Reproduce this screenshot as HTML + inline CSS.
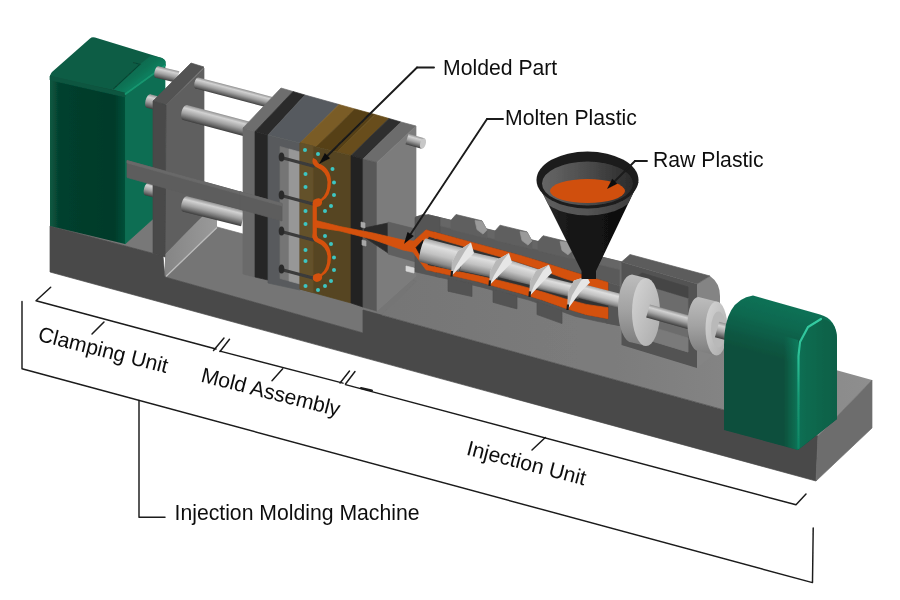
<!DOCTYPE html>
<html lang="en">
<head>
<meta charset="utf-8">
<title>Injection Molding Machine</title>
<style>
html,body{margin:0;padding:0;background:#fff;}
body{width:900px;height:600px;overflow:hidden;font-family:"Liberation Sans",Arial,sans-serif;}
svg{display:block;}
text{font-family:"Liberation Sans",Arial,sans-serif;font-size:21.2px;fill:#111;}
.ln{stroke:#1a1a1a;fill:none;stroke-linecap:round;stroke-linejoin:round;}
</style>
</head>
<body>
<svg width="900" height="600" viewBox="0 0 900 600">
<defs>
<linearGradient id="cyl" x1="0" y1="0" x2="0" y2="1">
<stop offset="0" stop-color="#909090"/><stop offset="0.22" stop-color="#d2d2d2"/><stop offset="0.55" stop-color="#a2a2a2"/><stop offset="0.85" stop-color="#626262"/><stop offset="1" stop-color="#3c3c3c"/>
</linearGradient>
<linearGradient id="scr" x1="0" y1="0" x2="0" y2="1">
<stop offset="0" stop-color="#a6a6a6"/><stop offset="0.22" stop-color="#dedede"/><stop offset="0.55" stop-color="#c2c2c2"/><stop offset="0.85" stop-color="#8c8c8c"/><stop offset="1" stop-color="#555"/>
</linearGradient>
<linearGradient id="gfront" x1="0" y1="0" x2="1" y2="0">
<stop offset="0" stop-color="#0a5a42"/><stop offset="0.12" stop-color="#05402e"/><stop offset="0.85" stop-color="#043a29"/><stop offset="1" stop-color="#065039"/>
</linearGradient>
<linearGradient id="gtopL" gradientUnits="userSpaceOnUse" x1="115" y1="79" x2="125" y2="92">
<stop offset="0" stop-color="#0b694e"/><stop offset="0.6" stop-color="#0c7254"/><stop offset="1" stop-color="#0e7d5d"/>
</linearGradient>
<linearGradient id="btop" gradientUnits="userSpaceOnUse" x1="360" y1="0" x2="870" y2="0">
<stop offset="0" stop-color="#757575"/><stop offset="0.5" stop-color="#7c7c7c"/><stop offset="1" stop-color="#8e8e8e"/>
</linearGradient>
<linearGradient id="wall" x1="0" y1="0" x2="1" y2="0"><stop offset="0" stop-color="#858585"/><stop offset="1" stop-color="#9a9a9a"/></linearGradient>
<linearGradient id="dface" x1="0" y1="0" x2="1" y2="1"><stop offset="0" stop-color="#d6d6d6"/><stop offset="1" stop-color="#aaaaaa"/></linearGradient>
<linearGradient id="drim" x1="0" y1="0" x2="0" y2="1"><stop offset="0" stop-color="#bdbdbd"/><stop offset="0.5" stop-color="#a2a2a2"/><stop offset="1" stop-color="#7c7c7c"/></linearGradient>
<linearGradient id="gtop" gradientUnits="userSpaceOnUse" x1="768" y1="300" x2="754" y2="352"><stop offset="0" stop-color="#0c7155"/><stop offset="0.35" stop-color="#0b6950"/><stop offset="0.75" stop-color="#0a5843"/><stop offset="1" stop-color="#0a503c"/></linearGradient>
<linearGradient id="gfront2" x1="0" y1="0" x2="1" y2="0"><stop offset="0" stop-color="#0b5a43"/><stop offset="0.2" stop-color="#084733"/><stop offset="1" stop-color="#063f2d"/></linearGradient>
<linearGradient id="garch" x1="0" y1="0" x2="1" y2="0"><stop offset="0" stop-color="#0b6f53"/><stop offset="0.5" stop-color="#0a664c"/><stop offset="1" stop-color="#0a6047"/></linearGradient>
<linearGradient id="medge" x1="0" y1="0" x2="1" y2="0"><stop offset="0" stop-color="#0e8060" stop-opacity="0"/><stop offset="1" stop-color="#0e8060" stop-opacity="0.75"/></linearGradient>
<linearGradient id="mhl" gradientUnits="userSpaceOnUse" x1="0" y1="319" x2="0" y2="450"><stop offset="0" stop-color="#35cca2"/><stop offset="0.3" stop-color="#2cbf96"/><stop offset="0.6" stop-color="#179a76"/><stop offset="1" stop-color="#108463"/></linearGradient>
<linearGradient id="hop" x1="0" y1="0" x2="1" y2="0"><stop offset="0" stop-color="#2c2c2c"/><stop offset="0.35" stop-color="#161616"/><stop offset="1" stop-color="#0d0d0d"/></linearGradient>
<linearGradient id="hband" x1="0" y1="0" x2="1" y2="0"><stop offset="0" stop-color="#5e5e5e"/><stop offset="0.5" stop-color="#545454"/><stop offset="1" stop-color="#3a3a3a"/></linearGradient>
<linearGradient id="hopin" x1="0" y1="0" x2="1" y2="0"><stop offset="0" stop-color="#666"/><stop offset="0.5" stop-color="#4c4c4c"/><stop offset="1" stop-color="#2a2a2a"/></linearGradient>
<filter id="soft2" x="-5%" y="-5%" width="110%" height="110%"><feGaussianBlur stdDeviation="0.35"/></filter>
<filter id="soft" x="-5%" y="-5%" width="110%" height="110%"><feGaussianBlur stdDeviation="0.7"/></filter>
</defs>
<rect width="900" height="600" fill="#fff"/>
<g id="machine" filter="url(#soft)">
<!--PARTS-->
<polygon points="50.0,226.0 104.0,170.0 217.0,203.0 165.0,253.0 163.0,256.0" fill="#787878" stroke="#787878" stroke-width="0.7" stroke-linejoin="round" />
<polygon points="363.0,310.0 417.0,254.0 872.0,380.0 818.0,436.0" fill="url(#btop)" />
<polygon points="165.0,277.0 217.0,227.0 417.0,281.0 363.0,333.0" fill="#747474" stroke="#747474" stroke-width="0.7" stroke-linejoin="round" />
<polygon points="165.0,253.0 217.0,203.0 217.0,227.0 165.0,277.0" fill="url(#wall)" />
<polyline points="166.0,276.5 217.0,227.5" fill="none" stroke="#bcbcbc" stroke-width="1.3" />
<polygon points="50.0,226.0 163.0,256.0 165.0,277.0 363.0,333.0 363.0,310.0 818.0,436.0 816.0,481.0 50.0,272.0" fill="#494949" stroke="#494949" stroke-width="0.7" stroke-linejoin="round" />
<polygon points="818.0,436.0 872.0,380.0 872.0,428.0 816.0,481.0" fill="#6d6d6d" stroke="#6d6d6d" stroke-width="0.7" stroke-linejoin="round" />
<polygon points="125.0,92.0 165.0,64.0 165.0,208.0 125.0,244.0" fill="#0b6e52" stroke="#0b6e52" stroke-width="0.7" stroke-linejoin="round" />
<polygon points="50.0,75.0 125.0,92.0 125.0,244.0 50.0,226.0" fill="url(#gfront)" />
<path d="M50,77 Q50,74 52,72 L90,38.5 Q92,36.5 95,37.5 L162,58 Q165,59 165.5,62 L165.5,65 L126,93.5 Q125,92.5 123,92 Z" fill="#0a5d45" />
<polygon points="113.3,89.5 140.0,64.2 151.0,55.5 162.0,58.0 165.5,61.0 165.5,65.0 126.0,93.5" fill="url(#gtopL)" />
<polygon points="50.0,76.0 125.0,93.0 125.0,97.0 50.0,80.0" fill="#085640" stroke="#085640" stroke-width="0.7" stroke-linejoin="round" />
<polyline points="125.5,94.0 165.0,65.5" fill="none" stroke="#15966f" stroke-width="1.8" stroke-linecap="round"/>
<polyline points="113.3,89.0 140.0,64.2 133.0,62.5" fill="none" stroke="#074a36" stroke-width="1.1" />
<g transform="translate(157.0,72.0) rotate(13.39)"><polygon points="0,-6.0 21.6,-6.0 21.6,6.0 0,6.0" fill="url(#cyl)"/><ellipse cx="0" cy="0" rx="2.5" ry="6" fill="url(#cyl)"/></g>
<g transform="translate(148.5,101.0) rotate(14.53)"><polygon points="0,-7.0 13.9,-7.0 13.9,7.0 0,7.0" fill="url(#cyl)"/><ellipse cx="0" cy="0" rx="3" ry="7" fill="url(#cyl)"/></g>
<g transform="translate(147.0,189.0) rotate(15.26)"><polygon points="0,-6.5 11.4,-6.5 11.4,6.5 0,6.5" fill="url(#cyl)"/><ellipse cx="0" cy="0" rx="3" ry="6.5" fill="url(#cyl)"/></g>
<polygon points="153.0,101.0 191.0,63.0 204.0,67.0 166.0,105.0" fill="#525252" stroke="#525252" stroke-width="0.7" stroke-linejoin="round" />
<polygon points="166.0,105.0 204.0,68.0 204.0,214.0 165.0,254.0" fill="#5f5f5f" stroke="#5f5f5f" stroke-width="0.7" stroke-linejoin="round" />
<polygon points="153.0,101.0 166.0,105.0 165.0,257.0 153.0,253.0" fill="#484848" stroke="#484848" stroke-width="0.7" stroke-linejoin="round" />
<polygon points="204.0,197.0 243.0,207.5 243.0,216.0 204.0,205.0" fill="#585858" stroke="#585858" stroke-width="0.7" stroke-linejoin="round" />
<g transform="translate(197.0,83.0) rotate(14.76)"><polygon points="0,-5.8 76.5,-5.8 76.5,5.8 0,5.8" fill="url(#cyl)"/><ellipse cx="0" cy="0" rx="2.5" ry="5.75" fill="url(#cyl)"/></g>
<g transform="translate(185.0,112.5) rotate(14.90)"><polygon points="0,-7.8 64.2,-7.8 64.2,7.8 0,7.8" fill="url(#cyl)"/><ellipse cx="0" cy="0" rx="3.5" ry="7.75" fill="url(#cyl)"/></g>
<g transform="translate(185.0,204.0) rotate(14.04)"><polygon points="0,-8.0 59.8,-8.0 59.8,8.0 0,8.0" fill="url(#cyl)"/><ellipse cx="0" cy="0" rx="3.5" ry="8" fill="url(#cyl)"/></g>
<polygon points="127.0,160.5 282.0,203.5 282.0,221.0 127.0,177.5" fill="#5d5d5d" stroke="#5d5d5d" stroke-width="0.7" stroke-linejoin="round" />
<polygon points="127.0,160.5 282.0,203.5 282.0,206.0 127.0,163.0" fill="#696969" stroke="#696969" stroke-width="0.7" stroke-linejoin="round" />
<polygon points="243.0,128.0 281.0,88.0 293.0,91.5 255.0,131.5" fill="#6e6e6e" stroke="#6e6e6e" stroke-width="0.7" stroke-linejoin="round" />
<polygon points="255.0,131.5 293.0,91.5 305.0,95.0 268.0,135.0" fill="#2b2b2b" stroke="#2b2b2b" stroke-width="0.7" stroke-linejoin="round" />
<polygon points="268.0,135.0 305.0,95.0 339.0,104.5 300.0,143.0" fill="#575a5f" stroke="#575a5f" stroke-width="0.7" stroke-linejoin="round" />
<polygon points="300.0,143.0 339.0,104.5 355.0,109.0 316.0,147.0" fill="#7a5c28" stroke="#7a5c28" stroke-width="0.7" stroke-linejoin="round" />
<polygon points="316.0,147.0 355.0,109.0 375.0,114.5 337.0,152.0" fill="#574114" stroke="#574114" stroke-width="0.7" stroke-linejoin="round" />
<polygon points="337.0,152.0 375.0,114.5 389.0,118.5 351.0,155.5" fill="#674d1b" stroke="#674d1b" stroke-width="0.7" stroke-linejoin="round" />
<polygon points="351.0,155.5 389.0,118.5 401.0,122.0 363.0,159.0" fill="#2e2e2e" stroke="#2e2e2e" stroke-width="0.7" stroke-linejoin="round" />
<polygon points="363.0,159.0 401.0,122.0 416.0,126.0 377.0,162.5" fill="#6c6c6c" stroke="#6c6c6c" stroke-width="0.7" stroke-linejoin="round" />
<polygon points="243.0,128.0 255.0,131.5 255.0,277.0 243.0,274.0" fill="#6a6a6a" stroke="#6a6a6a" stroke-width="0.7" stroke-linejoin="round" />
<polygon points="255.0,131.5 268.0,135.0 268.0,280.0 255.0,277.0" fill="#262626" stroke="#262626" stroke-width="0.7" stroke-linejoin="round" />
<polygon points="268.0,135.0 300.0,143.0 300.0,290.0 268.0,283.0" fill="#585a5d" stroke="#585a5d" stroke-width="0.7" stroke-linejoin="round" />
<polygon points="280.0,146.5 289.0,149.0 289.0,281.0 280.0,278.5" fill="#747474" stroke="#747474" stroke-width="0.7" stroke-linejoin="round" />
<polygon points="289.0,149.0 300.0,152.0 300.0,284.0 289.0,281.0" fill="#979797" stroke="#979797" stroke-width="0.7" stroke-linejoin="round" />
<polygon points="300.0,143.0 351.0,155.5 351.0,303.0 300.0,289.0" fill="#564520" stroke="#564520" stroke-width="0.7" stroke-linejoin="round" />
<polygon points="300.0,143.0 313.0,146.0 313.0,292.5 300.0,289.0" fill="#64512a" stroke="#64512a" stroke-width="0.7" stroke-linejoin="round" />
<polygon points="351.0,155.5 363.0,159.0 363.0,307.0 351.0,303.0" fill="#222222" stroke="#222222" stroke-width="0.7" stroke-linejoin="round" />
<polygon points="363.0,159.0 377.0,162.5 377.0,311.0 363.0,307.0" fill="#585858" stroke="#585858" stroke-width="0.7" stroke-linejoin="round" />
<polygon points="377.0,162.5 416.0,126.0 416.0,276.0 377.0,311.0" fill="#7c7c7c" stroke="#7c7c7c" stroke-width="0.7" stroke-linejoin="round" />
<polygon points="240.0,191.8 282.0,203.5 282.0,221.0 240.0,209.2" fill="#5d5d5d" stroke="#5d5d5d" stroke-width="0.7" stroke-linejoin="round" />
<polygon points="240.0,191.8 282.0,203.5 282.0,206.0 240.0,194.3" fill="#696969" stroke="#696969" stroke-width="0.7" stroke-linejoin="round" />
<polyline points="283.0,158.0 313.0,166.0" fill="none" stroke="#3a3a3a" stroke-width="3.2" stroke-linecap="round"/>
<ellipse cx="281.5" cy="157" rx="2.8" ry="4.5" fill="#2b2b2b"/>
<polyline points="283.0,196.0 313.0,204.0" fill="none" stroke="#3a3a3a" stroke-width="3.2" stroke-linecap="round"/>
<ellipse cx="281.5" cy="195" rx="2.8" ry="4.5" fill="#2b2b2b"/>
<polyline points="283.0,232.0 313.0,240.0" fill="none" stroke="#3a3a3a" stroke-width="3.2" stroke-linecap="round"/>
<ellipse cx="281.5" cy="231" rx="2.8" ry="4.5" fill="#2b2b2b"/>
<polyline points="283.0,270.0 313.0,278.0" fill="none" stroke="#3a3a3a" stroke-width="3.2" stroke-linecap="round"/>
<ellipse cx="281.5" cy="269" rx="2.8" ry="4.5" fill="#2b2b2b"/>
<g transform="translate(407.0,139.0) rotate(15.71)"><polygon points="0,-5.5 16.6,-5.5 16.6,5.5 0,5.5" fill="url(#cyl)"/><ellipse cx="16.6" cy="0" rx="2.8" ry="5.5" fill="#c8c8c8"/></g>
<path d="M313,158 Q317,159 318,163 Q331,168 331,182 Q331,196 322,201 Q323,206 317,207 Q311,206 313.5,200 Q318,197 321,199 Q327.5,194 327.5,182 Q327.5,172 316,167 Q311,164 313,158 Z" fill="#d4510f" />
<path d="M313,233 Q317,234 318,238 Q331,243 331,257 Q331,271 322,276 Q323,281 317,282 Q311,281 313.5,275 Q318,272 321,274 Q327.5,269 327.5,257 Q327.5,247 316,242 Q311,239 313,233 Z" fill="#d4510f" />
<polygon points="313.0,203.0 316.5,203.0 316.5,238.0 313.0,238.0" fill="#d4510f" stroke="#d4510f" stroke-width="0.7" stroke-linejoin="round" />
<circle cx="305" cy="150" r="2" fill="#3cc6c2"/>
<circle cx="318" cy="154" r="2" fill="#3cc6c2"/>
<circle cx="305.5" cy="174" r="2" fill="#3cc6c2"/>
<circle cx="305.5" cy="187" r="2" fill="#3cc6c2"/>
<circle cx="305.5" cy="211" r="2" fill="#3cc6c2"/>
<circle cx="305.5" cy="224" r="2" fill="#3cc6c2"/>
<circle cx="305.5" cy="250" r="2" fill="#3cc6c2"/>
<circle cx="305.5" cy="261" r="2" fill="#3cc6c2"/>
<circle cx="305.5" cy="286" r="2" fill="#3cc6c2"/>
<circle cx="318" cy="290" r="2" fill="#3cc6c2"/>
<circle cx="332.5" cy="169" r="2" fill="#3cc6c2"/>
<circle cx="334" cy="182.5" r="2" fill="#3cc6c2"/>
<circle cx="334" cy="195" r="2" fill="#3cc6c2"/>
<circle cx="331" cy="206" r="2" fill="#3cc6c2"/>
<circle cx="325" cy="211" r="2" fill="#3cc6c2"/>
<circle cx="325" cy="236" r="2" fill="#3cc6c2"/>
<circle cx="331" cy="244" r="2" fill="#3cc6c2"/>
<circle cx="334" cy="257.5" r="2" fill="#3cc6c2"/>
<circle cx="334" cy="270" r="2" fill="#3cc6c2"/>
<circle cx="331" cy="281" r="2" fill="#3cc6c2"/>
<circle cx="325" cy="286" r="2" fill="#3cc6c2"/>
<polygon points="428.0,214.7 452.2,220.6 476.5,226.5 500.8,232.4 525.0,238.3 549.2,244.2 573.5,250.2 597.8,256.1 622.0,262.0 622.0,286.6 597.8,279.3 573.5,272.0 549.2,264.3 525.0,256.8 500.8,250.2 476.5,243.6 452.2,237.1 428.0,230.5" fill="#5a5a5a" stroke="#5a5a5a" stroke-width="0.7" stroke-linejoin="round" />
<polygon points="428.0,214.7 452.2,220.6 476.5,226.5 500.8,232.4 525.0,238.3 549.2,244.2 573.5,250.2 597.8,256.1 622.0,262.0 622.0,270.0 597.8,264.1 573.5,258.2 549.2,252.2 525.0,246.3 500.8,240.4 476.5,234.5 452.2,228.6 428.0,222.7" fill="#666666" stroke="#666666" stroke-width="0.7" stroke-linejoin="round" />
<polygon points="416.0,216.7 428.0,214.7 428.0,230.5 416.0,227.2" fill="#606060" stroke="#606060" stroke-width="0.7" stroke-linejoin="round" />
<polygon points="451.0,220.3 456.0,214.5 482.0,220.8 487.0,230.1 487.0,238.1 451.0,229.3" fill="#5f5f5f" stroke="#5f5f5f" stroke-width="0.7" stroke-linejoin="round" />
<polygon points="475.0,220.6 482.0,221.3 487.0,230.1 483.0,234.1 477.0,229.6" fill="#9a9a9a" stroke="#9a9a9a" stroke-width="0.7" stroke-linejoin="round" />
<polygon points="495.0,231.0 500.0,225.2 527.0,231.8 532.0,241.0 532.0,249.0 495.0,240.0" fill="#5f5f5f" stroke="#5f5f5f" stroke-width="0.7" stroke-linejoin="round" />
<polygon points="520.0,231.6 527.0,232.3 532.0,241.0 528.0,245.1 522.0,240.6" fill="#9a9a9a" stroke="#9a9a9a" stroke-width="0.7" stroke-linejoin="round" />
<polygon points="538.0,241.5 543.0,235.7 567.0,241.6 572.0,250.8 572.0,258.8 538.0,250.5" fill="#5f5f5f" stroke="#5f5f5f" stroke-width="0.7" stroke-linejoin="round" />
<polygon points="560.0,241.4 567.0,242.1 572.0,250.8 568.0,254.8 562.0,250.4" fill="#9a9a9a" stroke="#9a9a9a" stroke-width="0.7" stroke-linejoin="round" />
<polygon points="364.0,228.0 388.0,223.0 388.0,253.0 364.0,237.0" fill="#2c2c2c" stroke="#2c2c2c" stroke-width="0.7" stroke-linejoin="round" />
<polygon points="361.0,222.0 365.0,223.0 365.0,228.0 361.0,227.0" fill="#a8a8a8" stroke="#a8a8a8" stroke-width="0.7" stroke-linejoin="round" />
<polygon points="362.0,240.0 366.0,241.0 366.0,246.0 362.0,245.0" fill="#a8a8a8" stroke="#a8a8a8" stroke-width="0.7" stroke-linejoin="round" />
<polygon points="388.0,222.0 416.0,229.0 416.0,262.0 388.0,254.0" fill="#5f5f5f" stroke="#5f5f5f" stroke-width="0.7" stroke-linejoin="round" />
<polygon points="415.0,217.5 423.0,214.4 440.0,217.6 440.0,277.4 415.0,271.8" fill="#545454" stroke="#545454" stroke-width="0.7" stroke-linejoin="round" />
<polygon points="436.0,272.0 459.2,277.3 482.5,282.9 505.8,289.4 529.0,295.6 552.2,303.6 575.5,311.9 598.8,317.1 622.0,321.5 622.0,326.0 598.8,321.6 575.5,316.4 552.2,308.1 529.0,300.1 505.8,293.9 482.5,287.4 459.2,281.8 436.0,276.5" fill="#545454" stroke="#545454" stroke-width="0.7" stroke-linejoin="round" />
<polygon points="606.0,281.8 614.0,284.2 622.0,286.6 622.0,326.0 614.0,324.5 606.0,322.9" fill="#545454" stroke="#545454" stroke-width="0.7" stroke-linejoin="round" />
<polygon points="448.0,278.2 460.0,280.9 472.0,283.6 472.0,296.6 460.0,293.9 448.0,291.2" fill="#525252" stroke="#525252" stroke-width="0.7" stroke-linejoin="round" />
<polygon points="493.0,289.3 505.0,292.7 517.0,295.9 517.0,308.9 505.0,305.7 493.0,302.3" fill="#525252" stroke="#525252" stroke-width="0.7" stroke-linejoin="round" />
<polygon points="537.0,301.6 549.5,306.1 562.0,310.6 562.0,323.6 549.5,319.1 537.0,314.6" fill="#525252" stroke="#525252" stroke-width="0.7" stroke-linejoin="round" />
<polygon points="428.0,230.5 450.5,236.6 473.0,242.7 495.5,248.8 518.0,254.9 540.5,261.4 563.0,268.8 585.5,275.6 608.0,282.4 608.0,318.8 585.5,314.5 563.0,307.4 540.5,299.4 518.0,292.7 495.5,286.5 473.0,280.3 450.5,275.3 428.0,270.2" fill="#333333" stroke="#333333" stroke-width="0.7" stroke-linejoin="round" />
<polygon points="314.0,220.0 340.0,226.5 373.0,233.0 403.0,240.0 414.0,241.0 426.0,229.9 436.0,232.7 436.0,238.4 429.0,236.4 421.0,246.8 423.0,258.3 428.0,265.5 436.0,267.2 436.0,272.0 426.0,269.8 413.0,252.0 403.0,250.0 373.0,239.5 340.0,231.0 314.0,227.0" fill="#d4510f" stroke="#d4510f" stroke-width="0.7" stroke-linejoin="round" />
<polygon points="434.0,232.1 455.8,238.0 477.5,243.9 499.2,249.8 521.0,255.7 542.8,262.2 564.5,269.3 586.2,275.9 608.0,282.4 608.0,291.0 586.2,284.8 564.5,278.5 542.8,270.3 521.0,263.1 499.2,256.5 477.5,250.3 455.8,244.0 434.0,237.8" fill="#d4510f" stroke="#d4510f" stroke-width="0.7" stroke-linejoin="round" />
<polygon points="434.0,266.8 455.8,271.1 477.5,275.6 499.2,280.5 521.0,285.9 542.8,292.0 564.5,298.7 586.2,304.4 608.0,307.7 608.0,318.8 586.2,314.7 564.5,308.0 542.8,300.2 521.0,293.5 499.2,287.6 477.5,281.5 455.8,276.5 434.0,271.6" fill="#d4510f" stroke="#d4510f" stroke-width="0.7" stroke-linejoin="round" />
<polygon points="416.0,247.5 423.0,240.3 423.0,260.3" fill="#151515" stroke="#151515" stroke-width="0.7" stroke-linejoin="round" />
<g transform="translate(423.0,250.3) rotate(14.31)"><polygon points="0,-12.2 40.2,-12.2 40.2,12.2 0,12.2" fill="url(#scr)"/><ellipse cx="0" cy="0" rx="2.5" ry="12.25" fill="url(#scr)"/></g>
<g transform="translate(462.0,260.5) rotate(12.45)"><polygon points="0,-10.5 38.9,-10.0 38.9,10.0 0,10.5" fill="url(#scr)"/></g>
<g transform="translate(500.0,267.4) rotate(15.71)"><polygon points="0,-10.0 39.5,-8.5 39.5,8.5 0,10.0" fill="url(#scr)"/></g>
<g transform="translate(538.0,282.1) rotate(13.66)"><polygon points="0,-7.0 43.2,-7.0 43.2,7.0 0,7.0" fill="url(#scr)"/></g>
<g transform="translate(578.0,290.4) rotate(14.31)"><polygon points="0,-7.3 64.0,-7.3 64.0,7.3 0,7.3" fill="url(#scr)"/></g>
<path d="M471.0,242.6 L474.0,253.0 L464.0,263.0 L451.5,276.0 L452.0,262.0 L458.0,251.0 Z" fill="#e6e6e6" />
<path d="M471.0,242.6 L465.0,251.0 L456.0,266.0 L451.5,276.0 L452.0,262.0 L458.0,251.0 Z" fill="#b8b8b8" />
<polyline points="451.5,276.5 452.0,271.0" fill="none" stroke="#1c1c1c" stroke-width="2.2" />
<path d="M509.0,253.0 L512.0,262.6 L502.0,272.6 L489.5,285.3 L490.0,271.6 L496.0,260.6 Z" fill="#e6e6e6" />
<path d="M509.0,253.0 L503.0,260.6 L494.0,275.6 L489.5,285.3 L490.0,271.6 L496.0,260.6 Z" fill="#b8b8b8" />
<polyline points="489.5,285.8 490.0,280.3" fill="none" stroke="#1c1c1c" stroke-width="2.2" />
<path d="M549.0,264.7 L552.0,272.8 L542.0,282.8 L529.5,296.3 L530.0,281.8 L536.0,270.8 Z" fill="#e6e6e6" />
<path d="M549.0,264.7 L543.0,270.8 L534.0,285.8 L529.5,296.3 L530.0,281.8 L536.0,270.8 Z" fill="#b8b8b8" />
<polyline points="529.5,296.8 530.0,291.3" fill="none" stroke="#1c1c1c" stroke-width="2.2" />
<path d="M587.0,276.6 L590.0,282.5 L580.0,292.5 L567.5,309.5 L568.0,291.5 L574.0,280.5 Z" fill="#e6e6e6" />
<path d="M587.0,276.6 L581.0,280.5 L572.0,295.5 L567.5,309.5 L568.0,291.5 L574.0,280.5 Z" fill="#b8b8b8" />
<polyline points="567.5,310.0 568.0,304.5" fill="none" stroke="#1c1c1c" stroke-width="2.2" />
<polygon points="406.0,266.0 414.0,268.0 414.0,273.0 406.0,271.0" fill="#d8d8d8" stroke="#d8d8d8" stroke-width="0.7" stroke-linejoin="round" />
<polygon points="620.0,261.5 625.0,266.7 625.0,322.6 620.0,325.6" fill="#6a6a6a" stroke="#6a6a6a" stroke-width="0.7" stroke-linejoin="round" />
<path d="M697,284 L710,276 Q720,283 720,296 L720,350 L697,368 Z" fill="#848484" />
<polygon points="621.5,262.0 630.0,254.5 710.0,276.0 697.0,284.0" fill="#5c5c5c" stroke="#5c5c5c" stroke-width="0.7" stroke-linejoin="round" />
<path d="M621.5,262 L697,284 L697,368 L621.5,345 Z M632,281 L632,335 L688,352 L688,298 Z" fill="#525252" fill-rule="evenodd"/>
<polygon points="632.0,281.0 688.0,298.0 688.0,352.0 632.0,335.0" fill="#6c6c6c" stroke="#6c6c6c" stroke-width="0.7" stroke-linejoin="round" />
<polygon points="632.0,281.0 642.0,273.0 688.0,287.0 688.0,298.0" fill="#454545" stroke="#454545" stroke-width="0.7" stroke-linejoin="round" />
<polygon points="632.0,335.0 645.0,325.0 688.0,338.0 688.0,352.0" fill="#7a7a7a" stroke="#7a7a7a" stroke-width="0.7" stroke-linejoin="round" />
<path d="M632,274.5 L646,278 L646,346 L632,342.5 A14,34 0 0 1 632,274.5 Z" fill="url(#drim)" />
<ellipse cx="646" cy="312" rx="14" ry="34" fill="url(#dface)"/>
<g transform="translate(648.0,311.0) rotate(15.58)"><polygon points="0,-6.8 54.0,-6.8 54.0,6.8 0,6.8" fill="url(#cyl)"/></g>
<path d="M698.5,297.0 L716.5,301.5 L716.5,355.5 L698.5,351.0 A11,27 0 0 1 698.5,297.0 Z" fill="url(#drim)" />
<ellipse cx="716.5" cy="328.5" rx="11" ry="27" fill="url(#dface)"/>
<ellipse cx="718.5" cy="329.5" rx="7.5" ry="18" fill="#b9b9b9"/>
<g transform="translate(717.0,329.5) rotate(14.93)"><polygon points="0,-8.0 15.5,-8.0 15.5,8.0 0,8.0" fill="url(#cyl)"/></g>
<path d="M724,430 L724,345 Q724,300 753,295.5 L820,314.5 Q837,319 837,340 L837,419 L798,450 Z" fill="url(#gtop)" />
<path d="M784,446 L784,336 L798,340 L798,450 Z" fill="url(#medge)" />
<path d="M798,450 L798,354 Q798,330 818,319 Q837,318 837,340 L837,419 Z" fill="url(#garch)" />
<polyline points="798.5,448.0 798.5,356.0 800.0,342.0 808.0,327.0 821.0,319.0" fill="none" stroke="url(#mhl)" stroke-width="2.2" stroke-linecap="round"/>
<path d="M537,182 L581.5,271 L581.5,279 L596,279 L596,271 L638.5,182 Z" fill="url(#hop)" />
<clipPath id="hcone"><path d="M537,182 L581.5,271 L596,271 L638.5,182 Z"/></clipPath>
<ellipse cx="587.5" cy="187" rx="50" ry="28.5" fill="url(#hband)" clip-path="url(#hcone)"/>
<ellipse cx="587.5" cy="180" rx="51" ry="28.5" fill="#1b1b1b"/>
<ellipse cx="587.5" cy="183.5" rx="45.5" ry="22" fill="url(#hopin)"/>
<clipPath id="hc"><ellipse cx="587.5" cy="183.5" rx="45.5" ry="22"/></clipPath>
<g clip-path="url(#hc)"><ellipse cx="587.5" cy="191" rx="37.5" ry="12" fill="#d0500f"/><path d="M535,190 Q587.5,230 640,190 L640,215 L535,215 Z" fill="#333"/></g>
<!--/PARTS-->
</g>
<!--ANNOT-->
<g id="annot" filter="url(#soft2)">
<polyline class="ln" points="434,67.5 417,67.5" stroke-width="1.9"/>
<polyline class="ln" points="417,67.5 326.125,156.984" stroke-width="1.9"/>
<polygon points="319,164 324.9,152.9 330.2,158.3" fill="#111"/>
<polyline class="ln" points="503,119 487,119" stroke-width="1.9"/>
<polyline class="ln" points="487,119 409.532,235.669" stroke-width="1.9"/>
<polygon points="404,244 407.5,231.9 413.8,236.1" fill="#111"/>
<polyline class="ln" points="647,161 635,161" stroke-width="1.9"/>
<polyline class="ln" points="635,161 613.364,182.636" stroke-width="1.9"/>
<polygon points="607,189 612.2,178.7 617.3,183.8" fill="#111"/>
<text x="443" y="75">Molded Part</text>
<text x="505" y="124.5">Molten Plastic</text>
<text x="653" y="167">Raw Plastic</text>
<polyline class="ln" points="50.7,287.3 36,300.7 216,349.048" stroke-width="1.45"/>
<polyline class="ln" points="213.5,350.5 224,338" stroke-width="1.45"/>
<polyline class="ln" points="220,351.5 229.5,339.3" stroke-width="1.45"/>
<polyline class="ln" points="220,351.122 343,383.16" stroke-width="1.45"/>
<polyline class="ln" points="340,383 349.5,371" stroke-width="1.45"/>
<polyline class="ln" points="345.5,384 355,371.5" stroke-width="1.45"/>
<polyline class="ln" points="345.5,384.632 796,504.8 806,494" stroke-width="1.45"/>
<polyline class="ln" points="361,388 372,390.5" stroke-width="2"/>
<polyline class="ln" points="104,322 92,334" stroke-width="1.45"/>
<polyline class="ln" points="282.7,368.7 272,380.7" stroke-width="1.45"/>
<polyline class="ln" points="545.3,437.5 532,450" stroke-width="1.45"/>
<polyline class="ln" points="22,301.5 22,368.7 812.5,582.6 813.2,528" stroke-width="1.45"/>
<polyline class="ln" points="139,400.5 139,517.3 165,517.3" stroke-width="1.45"/>
<text x="37" y="340.5" transform="rotate(14.2 37 340.5)">Clamping Unit</text>
<text x="200" y="381.5" transform="rotate(14.2 200 381.5)">Mold Assembly</text>
<text x="465.5" y="454.5" transform="rotate(14.6 465.5 454.5)">Injection Unit</text>
<text x="174.5" y="520">Injection Molding Machine</text>
</g>
<!--/ANNOT-->
</svg>
</body>
</html>
